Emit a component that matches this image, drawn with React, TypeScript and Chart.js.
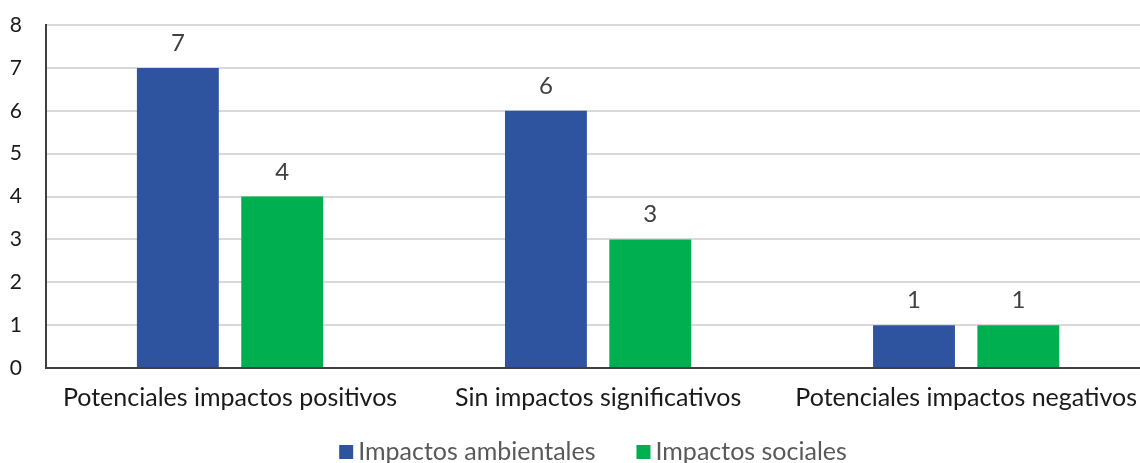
import React, { useEffect, useRef } from "react";
import { Chart, registerables } from "chart.js";

Chart.register(...registerables);

const categories = [
  "Potenciales impactos positivos",
  "Sin impactos significativos",
  "Potenciales impactos negativos",
];
const ambientales = [7, 6, 1];
const sociales = [4, 3, 1];
const seriesNames = ["Impactos ambientales", "Impactos sociales"];
const seriesColors = ["#2E54A0", "#00B050"];
const yTicks = [0, 1, 2, 3, 4, 5, 6, 7, 8];

const FONT = "Lato, 'Noto Sans', sans-serif";

// The plot runs slightly past the visible frame on the right, so the canvas
// is a little wider than its clipping box.
const VIEW_W = 1140;
const CANVAS_W = 1152;
const CANVAS_H = 463;

// Draws each bar's value centred above it.
const valueLabels = {
  id: "valueLabels",
  afterDatasetsDraw(chart: any) {
    const ctx = chart.ctx;
    ctx.save();
    ctx.font = `24px ${FONT}`;
    ctx.fillStyle = "#404040";
    ctx.textAlign = "center";
    ctx.textBaseline = "alphabetic";
    chart.data.datasets.forEach((ds: any, i: number) => {
      const meta = chart.getDatasetMeta(i);
      meta.data.forEach((bar: any, j: number) => {
        ctx.fillText(String(ds.data[j]), bar.x, bar.y - 17);
      });
    });
    ctx.restore();
  },
};

// Compact legend below the axis labels: small square, tight gap, then the name.
const bottomLegend = {
  id: "bottomLegend",
  afterDraw(chart: any) {
    const ctx = chart.ctx;
    const box = 14;
    const gap = 5;
    const itemGap = 41;
    ctx.save();
    ctx.font = `25px ${FONT}`;
    const items = chart.data.datasets.map((ds: any) => ({
      text: ds.label,
      color: ds.backgroundColor,
      w: ctx.measureText(ds.label).width,
    }));
    const total =
      items.reduce((s: number, it: any) => s + box + gap + it.w, 0) +
      itemGap * (items.length - 1);
    const cx = (chart.chartArea.left + VIEW_W) / 2;
    const cy = chart.height - 11;
    let x = cx - total / 2;
    ctx.textAlign = "left";
    ctx.textBaseline = "middle";
    items.forEach((it: any) => {
      ctx.fillStyle = it.color;
      ctx.fillRect(x, cy - box / 2, box, box);
      x += box + gap;
      ctx.fillStyle = "#595959";
      ctx.fillText(it.text, x, cy);
      x += it.w + itemGap;
    });
    ctx.restore();
  },
};

export default function App() {
  const ref = useRef<HTMLCanvasElement>(null);

  useEffect(() => {
    if (!ref.current) return;
    const chart = new Chart(ref.current, {
      type: "bar",
      data: {
        labels: categories,
        datasets: [
          {
            label: seriesNames[0],
            data: ambientales,
            backgroundColor: seriesColors[0],
          },
          {
            label: seriesNames[1],
            data: sociales,
            backgroundColor: seriesColors[1],
          },
        ],
      },
      options: {
        animation: false,
        responsive: false,
        maintainAspectRatio: false,
        categoryPercentage: 0.567,
        barPercentage: 0.785,
        layout: { padding: { top: 25, left: 0, right: 0, bottom: 35 } },
        plugins: {
          legend: { display: false },
          tooltip: { enabled: false },
        },
        scales: {
          x: {
            grid: { display: false, drawTicks: false },
            border: { display: true, color: "#404040", width: 2 },
            ticks: {
              font: { family: FONT, size: 25 },
              color: "#1a1a1a",
              padding: 15,
              maxRotation: 0,
              autoSkip: false,
            },
          },
          y: {
            min: 0,
            max: 8,
            afterFit(scale: any) {
              scale.width = 46;
              scale.paddingTop = 0;
              scale.paddingBottom = 0;
            },
            afterBuildTicks(scale: any) {
              scale.ticks = yTicks.map((v) => ({ value: v }));
            },
            grid: { color: "#d9d9d9", lineWidth: 2, drawTicks: false },
            border: { display: true, color: "#404040", width: 2 },
            ticks: {
              font: { family: FONT, size: 21 },
              color: "#1a1a1a",
              padding: 24,
            },
          },
        },
      },
      plugins: [valueLabels, bottomLegend],
    });
    return () => chart.destroy();
  }, []);

  return (
    <div
      style={{
        position: "fixed",
        left: 0,
        top: 0,
        width: VIEW_W,
        height: CANVAS_H,
        overflow: "hidden",
        background: "#fff",
      }}
    >
      <canvas ref={ref} width={CANVAS_W} height={CANVAS_H} style={{ display: "block" }} />
    </div>
  );
}
